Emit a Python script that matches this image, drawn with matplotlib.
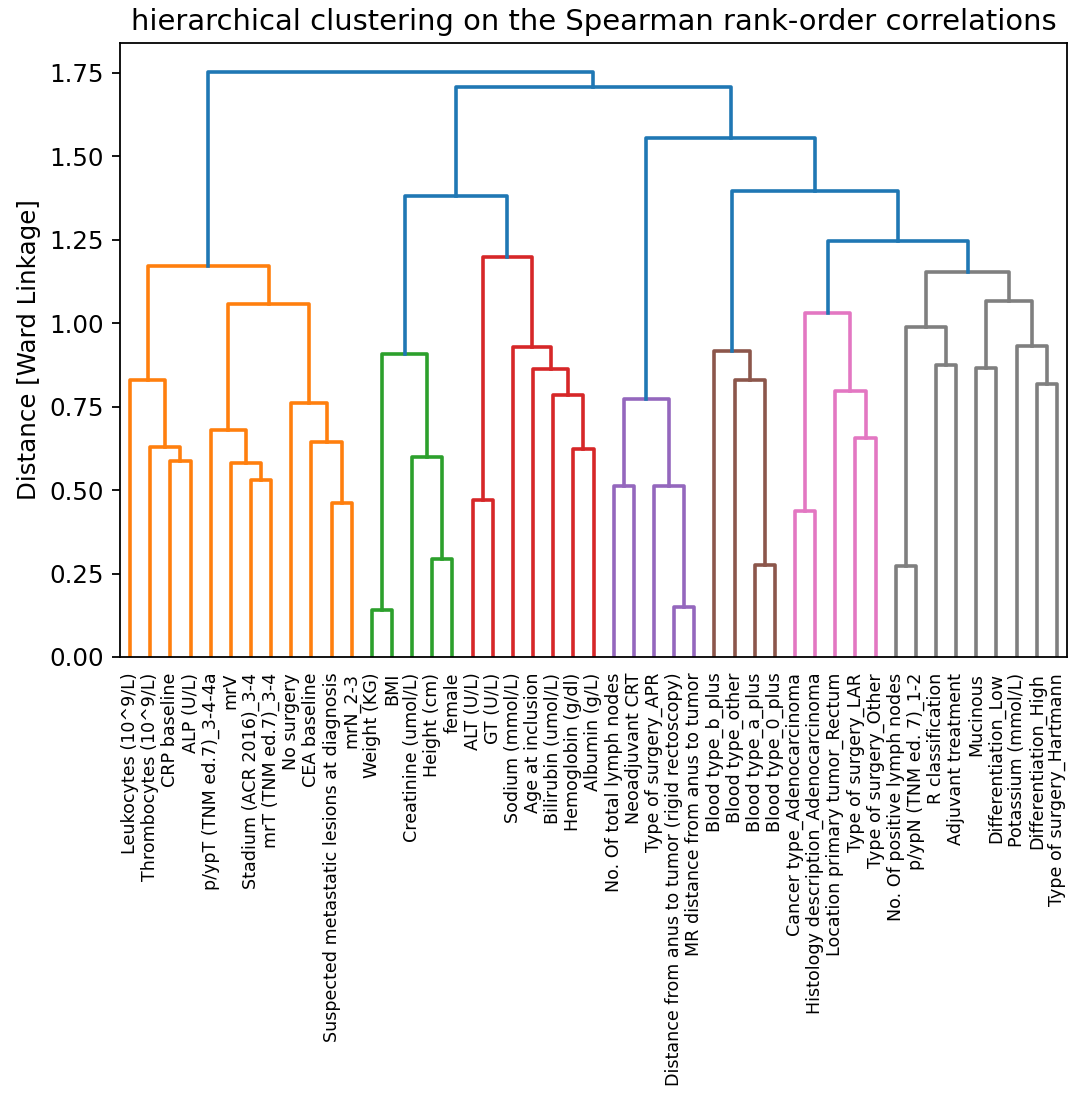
import matplotlib
matplotlib.use('Agg')
from matplotlib import pyplot as plt
import numpy as np

# feature names in leaf order (left to right)
leaf_labels = [
    'Leukocytes (10^9/L)', 'Thrombocytes (10^9/L)', 'CRP baseline', 'ALP (U/L)',
    'p/ypT (TNM ed.7)_3-4-4a', 'mrV', 'Stadium (ACR 2016)_3-4', 'mrT (TNM ed.7)_3-4',
    'No surgery', 'CEA baseline', 'Suspected metastatic lesions at diagnosis', 'mrN_2-3',
    'Weight (KG)', 'BMI', 'Creatinine (umol/L)', 'Height (cm)', 'female',
    'ALT (U/L)', 'GT (U/L)', 'Sodium (mmol/L)', 'Age at inclusion',
    'Bilirubin (umol/L)', 'Hemoglobin (g/dl)', 'Albumin (g/L)',
    'No. Of total lymph nodes', 'Neoadjuvant CRT', 'Type of surgery_APR',
    'Distance from anus to tumor (rigid rectoscopy)', 'MR distance from anus to tumor',
    'Blood type_b_plus', 'Blood type_other', 'Blood type_a_plus', 'Blood type_0_plus',
    'Cancer type_Adenocarcinoma', 'Histology description_Adenocarcinoma',
    'Location primary tumor_Rectum', 'Type of surgery_LAR', 'Type of surgery_Other',
    'No. Of positive lymph nodes', 'p/ypN (TNM ed. 7)_1-2', 'R classification',
    'Adjuvant treatment', 'Mucinous', 'Differentiation_Low', 'Potassium (mmol/L)',
    'Differentiation_High', 'Type of surgery_Hartmann',
]

# linkage rows: node n+k joins merge_left[k] and merge_right[k] at merge_height[k]
merge_left = [2, 1, 0, 6, 5, 4, 10, 9, 8, 52, 49,
              12, 15, 14, 58,
              17, 22, 21, 20, 19, 62, 61,
              24, 27, 26, 69,
              31, 30, 29,
              33, 36, 35, 76,
              38, 40, 80, 42, 45, 44, 83, 82,
              79, 75, 72, 68, 57]
merge_right = [3, 47, 48, 7, 50, 51, 11, 53, 54, 55, 56,
               13, 16, 59, 60,
               18, 23, 63, 64, 65, 66, 67,
               25, 28, 70, 71,
               32, 73, 74,
               34, 37, 77, 78,
               39, 41, 81, 43, 46, 84, 85, 86,
               87, 88, 89, 90, 91]
merge_height = [0.586, 0.629, 0.829, 0.529, 0.581, 0.679, 0.460, 0.644, 0.761, 1.058, 1.171,
                0.141, 0.293, 0.599, 0.908,
                0.470, 0.624, 0.784, 0.864, 0.928, 1.198, 1.380,
                0.512, 0.150, 0.512, 0.772,
                0.275, 0.831, 0.918,
                0.437, 0.657, 0.796, 1.032,
                0.273, 0.876, 0.990, 0.866, 0.819, 0.933, 1.066, 1.152,
                1.247, 1.395, 1.556, 1.707, 1.752]

n = len(leaf_labels)
root = n + len(merge_height) - 1
threshold = 0.7 * max(merge_height)
cluster_colors = ['C1', 'C2', 'C3', 'C4', 'C5', 'C6', 'C7', 'C8', 'C9']

xpos = {}
ypos = {}
links = []   # (xs, ys, color)
color_idx = [0]


def walk(node, color):
    # returns x of node; leaves sit at 5, 15, 25, ...
    if node < n:
        xpos[node] = 5 + 10 * node
        ypos[node] = 0.0
        return xpos[node]
    k = node - n
    h = merge_height[k]
    if h < threshold and color is None:
        color = cluster_colors[color_idx[0] % len(cluster_colors)]
        color_idx[0] += 1
    a, b = merge_left[k], merge_right[k]
    xa = walk(a, color)
    xb = walk(b, color)
    xpos[node] = (xa + xb) / 2
    ypos[node] = h
    c = color if h < threshold else 'C0'
    links.append(([xa, xa, xb, xb], [ypos[a], h, h, ypos[b]], c))
    return xpos[node]


walk(root, None)

fig = plt.figure(figsize=(1069 / 162, 1093 / 162), dpi=162)
ax = fig.add_axes([120 / 1069, 436 / 1093, 947 / 1069, 614 / 1093])

for xs, ys, c in links:
    ax.plot(xs, ys, color=c, linewidth=1.6)

ax.set_xlim(0, 10 * n)
ax.set_ylim(0, max(merge_height) * 1.05)
ax.set_xticks(5 + 10 * np.arange(n))
ax.set_xticklabels(leaf_labels, rotation=90, fontsize=7.8)
for line in ax.get_xticklines():
    line.set_visible(False)
ax.tick_params(axis='y', labelsize=10.9)

ax.set_ylabel('Distance [Ward Linkage]', fontsize=10.9)
ax.set_title('hierarchical clustering on the Spearman rank-order correlations', fontsize=12.9)

plt.savefig('out.png')
